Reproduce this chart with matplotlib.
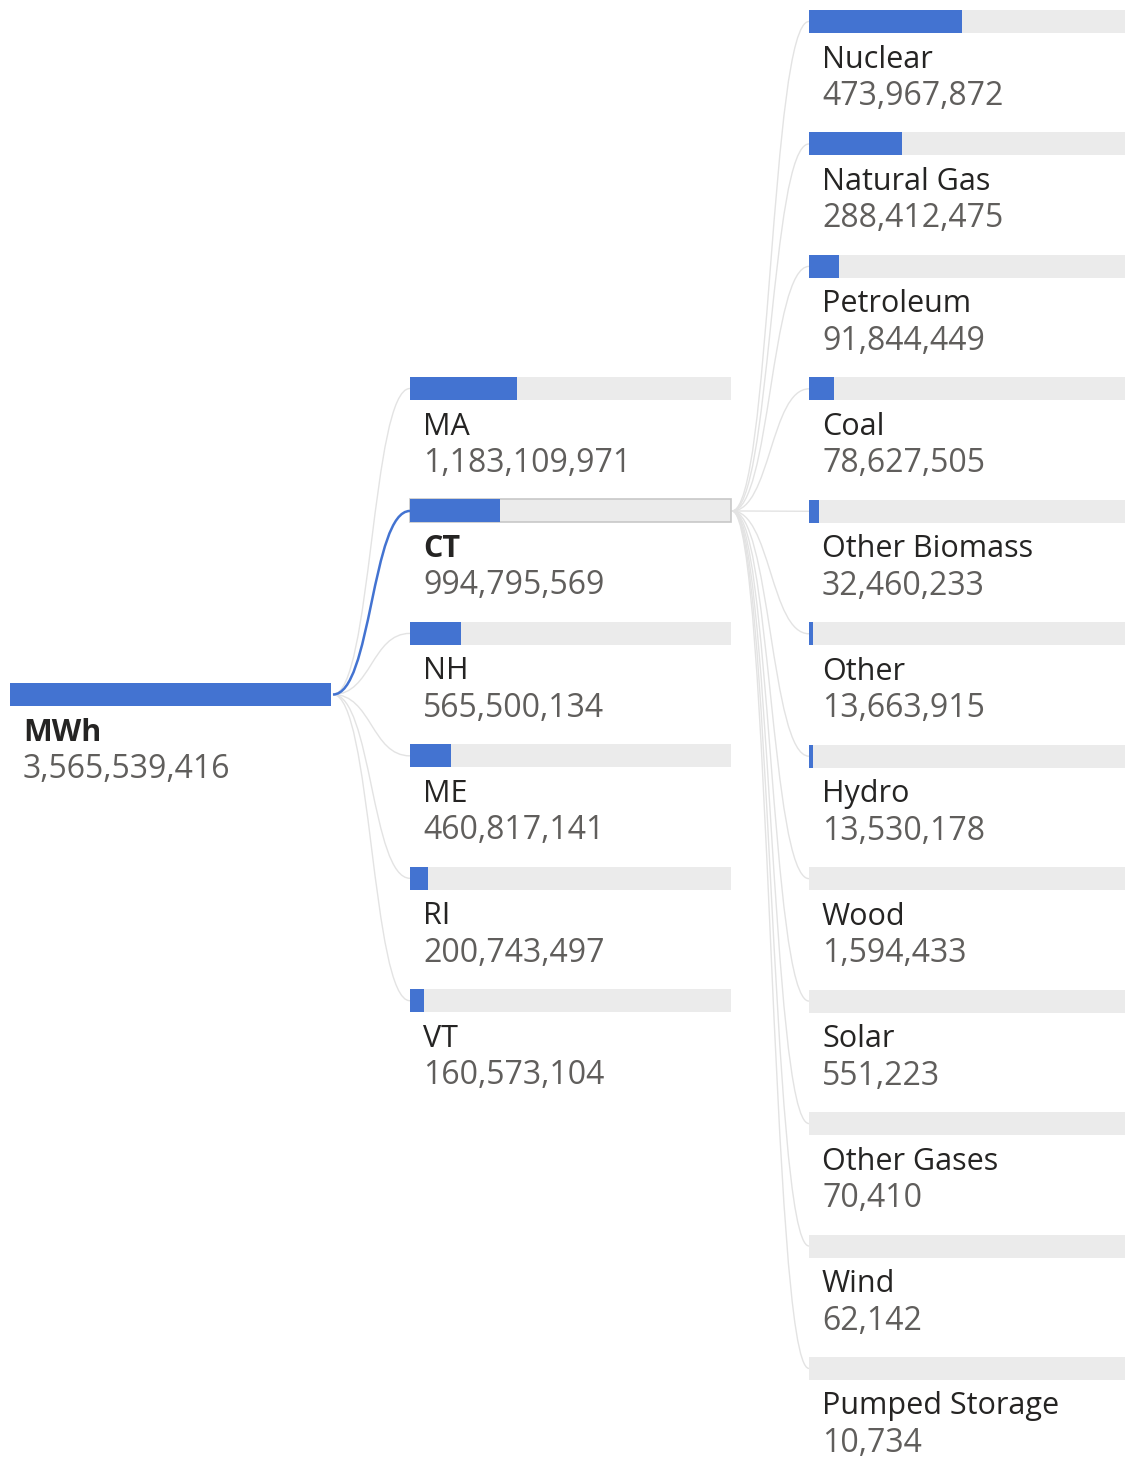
import matplotlib
matplotlib.use("Agg")
import matplotlib.pyplot as plt
from matplotlib.path import Path
from matplotlib.patches import PathPatch, Rectangle

# ---------------- data ----------------
root_label = "MWh"
root_value = 3565539416

states = ["MA", "CT", "NH", "ME", "RI", "VT"]
state_values = [1183109971, 994795569, 565500134, 460817141, 200743497, 160573104]
selected_state = "CT"

sources = ["Nuclear", "Natural Gas", "Petroleum", "Coal", "Other Biomass", "Other",
           "Hydro", "Wood", "Solar", "Other Gases", "Wind", "Pumped Storage"]
source_values = [473967872, 288412475, 91844449, 78627505, 32460233, 13663915,
                 13530178, 1594433, 551223, 70410, 62142, 10734]

# ---------------- style ----------------
BLUE = "#4373D1"
GRAY_BAR = "#EBEBEB"
LINK = "#E3E3E3"
NAME_C = "#252423"
VAL_C = "#605E5C"
FONT = ["Open Sans", "DejaVu Sans"]
FS_NAME = 22.0
FS_VAL = 23.0

W, H = 1125, 1458
fig = plt.figure(figsize=(W / 100, H / 100), dpi=100)
ax = fig.add_axes([0, 0, 1, 1])
ax.set_xlim(0, W)
ax.set_ylim(H, 0)
ax.axis("off")

BAR_W = 321
BAR_H = 23
LEVEL_X = [10, 410, 809]
STEP = 122.45


def node(x, top, frac, name, value, bold=False, border=False):
    ax.add_patch(Rectangle((x, top), BAR_W, BAR_H, facecolor=GRAY_BAR,
                           edgecolor="#C8C8C8" if border else "none",
                           linewidth=1.2 if border else 0, zorder=2))
    if BAR_W * frac >= 1.0:
        ax.add_patch(Rectangle((x, top), BAR_W * frac, BAR_H, facecolor=BLUE,
                               edgecolor="none", zorder=3))
    ax.text(x + 13, top + 49.5, name, fontsize=FS_NAME, family=FONT, color=NAME_C,
            fontweight="bold" if bold else "normal", va="center", ha="left")
    ax.text(x + 13, top + 86.5, f"{value:,}", fontsize=FS_VAL, family=FONT,
            color=VAL_C, va="center", ha="left")


def link(x0, y0, x1, y1, color, lw, z):
    dx = x1 - x0
    verts = [(x0, y0), (x0 + dx * 0.5, y0), (x1 - dx * 0.5, y1), (x1, y1)]
    codes = [Path.MOVETO, Path.CURVE4, Path.CURVE4, Path.CURVE4]
    ax.add_patch(PathPatch(Path(verts, codes), facecolor="none", edgecolor=color,
                           linewidth=lw, zorder=z))


# root
root_top = 683
node(LEVEL_X[0], root_top, 1.0, root_label, root_value, bold=True)

# level 1
l1_top0 = 377
sel_idx = states.index(selected_state)
for i, (s, v) in enumerate(zip(states, state_values)):
    top = l1_top0 + i * STEP
    is_sel = (s == selected_state)
    link(LEVEL_X[0] + BAR_W + 2, root_top + BAR_H / 2, LEVEL_X[1], top + BAR_H / 2,
         BLUE if is_sel else LINK, 1.8 if is_sel else 1.0, 5 if is_sel else 1)
    node(LEVEL_X[1], top, v / root_value, s, v, bold=is_sel, border=is_sel)

# level 2
sel_top = l1_top0 + sel_idx * STEP
sel_val = state_values[sel_idx]
l2_top0 = 10
for i, (s, v) in enumerate(zip(sources, source_values)):
    top = l2_top0 + i * STEP
    link(LEVEL_X[1] + BAR_W + 1, sel_top + BAR_H / 2, LEVEL_X[2], top + BAR_H / 2,
         LINK, 1.0, 1)
    node(LEVEL_X[2], top, v / sel_val, s, v)

fig.savefig("out.png", dpi=100, facecolor="white")
